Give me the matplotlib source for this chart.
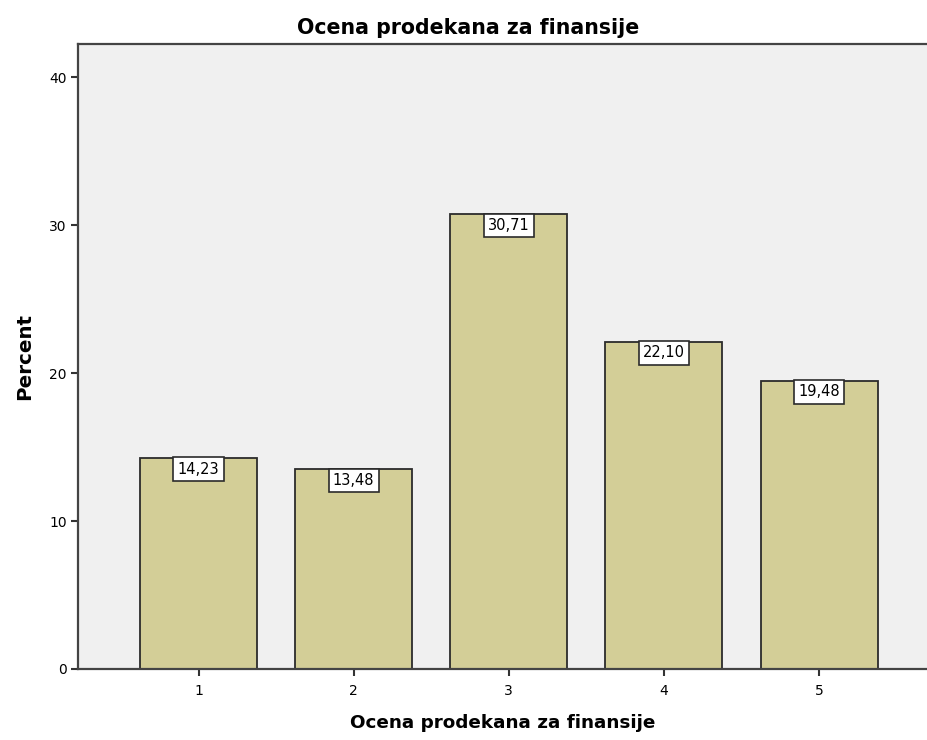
import matplotlib
matplotlib.use("Agg")
from matplotlib import pyplot as plt

plt.rcParams['font.family'] = ['DejaVu Sans']

categories = [1, 2, 3, 4, 5]
percent = [14.23, 13.48, 30.71, 22.10, 19.48]
value_labels = ["14,23", "13,48", "30,71", "22,10", "19,48"]

fig = plt.figure(figsize=(9.27, 7.4), dpi=100)
ax = fig.add_axes([78 / 927, 1 - 669 / 740, 1 - 78 / 927, (669 - 44) / 740])
ax.set_facecolor("#f0f0f0")

ax.bar(categories, percent, width=0.754, color="#d3ce97",
       edgecolor="#2b2b2b", linewidth=1.3, zorder=2)

for x, v, lab in zip(categories, percent, value_labels):
    ax.annotate(lab, (x, v), xytext=(0, -2.5), textcoords="offset points",
                ha="center", va="top", fontsize=10.5, zorder=3,
                bbox=dict(boxstyle="square,pad=0.3", fc="white",
                          ec="#2b2b2b", lw=1.2))

ax.set_xlim(0.223, 5.696)
ax.set_ylim(0, 42.23)
ax.set_xticks(categories)
ax.set_yticks([0, 10, 20, 30, 40])
ax.tick_params(direction="out", length=5, width=1.5, color="#333333",
               labelsize=10, pad=3)
ax.tick_params(axis="x", pad=6)

for side in ["left", "bottom", "top"]:
    ax.spines[side].set_color("#444444")
    ax.spines[side].set_linewidth(1.6)
ax.spines["right"].set_visible(False)

ax.set_xlabel("Ocena prodekana za finansije", fontsize=13.2, fontweight="bold",
              labelpad=11)
ax.set_ylabel("Percent", fontsize=14.3, fontweight="bold", labelpad=11)
fig.text(0.505, 0.962, "Ocena prodekana za finansije", ha="center",
         va="center", fontsize=14.8, fontweight="bold")

plt.savefig("out.png", dpi=100)
